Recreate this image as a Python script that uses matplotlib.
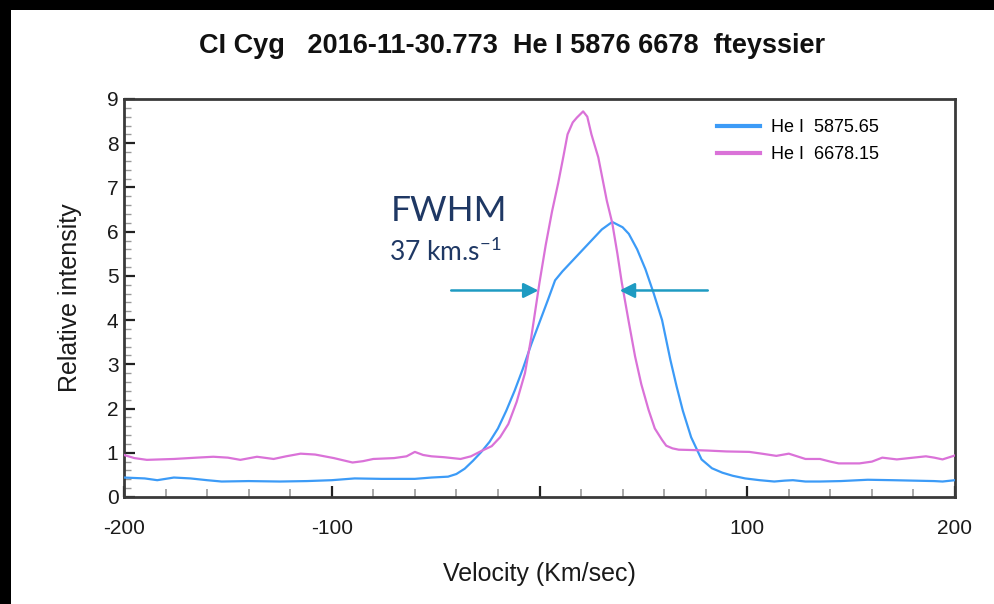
import matplotlib
matplotlib.use("Agg")
import matplotlib.pyplot as plt
from matplotlib.patches import Rectangle
from matplotlib.ticker import MultipleLocator, FixedLocator

# ---------------- data ----------------
vel_5876 = [-200, -190, -184, -176, -168, -160, -153, -140, -125, -112, -100, -89, -76, -60, -52,
            -44, -40, -36, -32, -28, -24, -20, -16, -12, -8, -4, 0, 4, 7.5, 11, 15, 20, 25, 30,
            35, 40, 43, 47, 51, 55, 59, 63, 66, 69, 73, 78, 83, 88, 93, 99, 106, 113, 118, 122,
            128, 135, 145, 158, 170, 180, 190, 194, 200]
int_5876 = [0.44, 0.42, 0.38, 0.44, 0.42, 0.38, 0.35, 0.36, 0.35, 0.36, 0.38, 0.42, 0.41, 0.41, 0.44,
            0.46, 0.52, 0.64, 0.82, 1.02, 1.25, 1.55, 1.95, 2.40, 2.90, 3.45, 3.95, 4.45, 4.90, 5.10,
            5.30, 5.55, 5.80, 6.05, 6.22, 6.10, 5.95, 5.60, 5.15, 4.60, 4.00, 3.10, 2.50, 1.95, 1.35,
            0.85, 0.65, 0.55, 0.48, 0.42, 0.38, 0.35, 0.37, 0.38, 0.35, 0.35, 0.36, 0.39, 0.38, 0.37,
            0.36, 0.35, 0.38]

vel_6678 = [-200, -195, -189, -176, -165, -157, -150, -144, -136, -128, -122, -115, -108, -99, -90,
            -85, -80, -70, -64, -60, -56, -52, -46, -38, -33, -28, -23, -19, -15, -11, -7, -4, 0,
            3, 6, 9, 11.5, 13.5, 16, 18, 21, 23, 25, 28.3, 32.4, 35, 37.5, 39.6, 43, 46, 49, 52.5,
            55.5, 59, 61, 64, 67, 75, 81, 90, 101, 107, 114, 120, 128, 135, 140, 144, 154, 160,
            165, 172, 180, 186, 190, 194, 200]
int_6678 = [0.95, 0.88, 0.84, 0.86, 0.89, 0.91, 0.89, 0.84, 0.91, 0.86, 0.92, 0.98, 0.96, 0.88, 0.78,
            0.81, 0.86, 0.88, 0.92, 1.02, 0.95, 0.92, 0.90, 0.86, 0.92, 1.04, 1.15, 1.35, 1.65, 2.15,
            2.80, 3.60, 4.85, 5.70, 6.45, 7.10, 7.70, 8.20, 8.47, 8.58, 8.72, 8.60, 8.20, 7.68, 6.70,
            6.20, 5.50, 4.85, 3.95, 3.18, 2.55, 1.97, 1.55, 1.29, 1.16, 1.10, 1.07, 1.06, 1.05, 1.03,
            1.02, 0.98, 0.93, 0.98, 0.86, 0.86, 0.80, 0.76, 0.76, 0.80, 0.89, 0.85, 0.89, 0.92, 0.89,
            0.85, 0.94]

series_labels = ["He I  5875.65", "He I  6678.15"]
series_colors = ["#3C9BF7", "#DA72D8"]

x_tick_values = [-200, -100, 0, 100, 200]
x_tick_labels = ["-200", "-100", "", "100", "200"]
y_tick_values = list(range(0, 10))

title_text = "CI Cyg   2016-11-30.773  He I 5876 6678  fteyssier"
xlabel_text = "Velocity (Km/sec)"
ylabel_text = "Relative intensity"

fwhm_label = "FWHM"
fwhm_value = "37 km.s$^{\\mathregular{-1}}$"
fwhm_left_arrow = (-42.5, -0.5)   # from, to (velocity)
fwhm_right_arrow = (81.0, 38.6)
fwhm_level = 4.67

# ---------------- figure ----------------
plt.rcParams["font.family"] = ["Liberation Sans", "DejaVu Sans"]
plt.rcParams["mathtext.fontset"] = "custom"
plt.rcParams["mathtext.rm"] = "Lato"

fig = plt.figure(figsize=(9.94, 6.04), dpi=100)
fig.patch.set_facecolor("white")
fig.patches.append(Rectangle((0, 0), 11 / 994, 1, transform=fig.transFigure,
                             facecolor="black", edgecolor="none", zorder=10))
fig.patches.append(Rectangle((0, 1 - 10 / 604), 1, 10 / 604, transform=fig.transFigure,
                             facecolor="black", edgecolor="none", zorder=10))

ax = fig.add_axes([124 / 994, 1 - 497 / 604, (955 - 124) / 994, (497 - 99) / 604])

ax.plot(vel_5876, int_5876, color=series_colors[0], lw=1.6, label=series_labels[0], zorder=3)
ax.plot(vel_6678, int_6678, color=series_colors[1], lw=1.6, label=series_labels[1], zorder=3)

ax.set_xlim(-200, 200)
ax.set_ylim(0, 9)

for s in ax.spines.values():
    s.set_color("#3a3a3a")
    s.set_linewidth(2)

ax.xaxis.set_major_locator(FixedLocator(x_tick_values))
ax.set_xticklabels(x_tick_labels)
ax.xaxis.set_minor_locator(MultipleLocator(20))
ax.yaxis.set_major_locator(FixedLocator(y_tick_values))
ax.yaxis.set_minor_locator(MultipleLocator(0.2))

ax.tick_params(axis="x", which="major", direction="in", length=8, width=1.6, color="#222222",
               labelsize=15, pad=16, labelcolor="#1a1a1a")
ax.tick_params(axis="x", which="minor", direction="in", length=6, width=1.2, color="#999999")
ax.tick_params(axis="y", which="major", direction="in", length=8, width=1.6, color="#222222",
               labelsize=15, pad=4, labelcolor="#1a1a1a")
ax.tick_params(axis="y", which="minor", direction="in", length=5, width=1.0, color="#999999")

ax.set_xlabel(xlabel_text, fontsize=18, labelpad=17, color="#1a1a1a")
ax.set_ylabel(ylabel_text, fontsize=18, labelpad=18, color="#1a1a1a")

fig.text(512 / 994, 1 - 46 / 604, title_text, ha="center", va="center", fontsize=19.5,
         fontweight="bold", family=["Liberation Sans", "DejaVu Sans"], color="#111111")

leg = ax.legend(loc="upper left", bbox_to_anchor=((717 - 124) / 831, (497 - 119) / 398),
                frameon=False, fontsize=13, borderpad=0, borderaxespad=0,
                handlelength=2.4, handletextpad=0.6, labelspacing=0.55)
for line in leg.get_lines():
    line.set_linewidth(3)

# FWHM annotation
navy = "#1F3864"
teal = "#1E9BC2"
ax.text(-71.5, 6.47, fwhm_label, fontsize=25.5, color=navy, family=["Lato", "DejaVu Sans"],
        ha="left", va="center")
ax.text(-72.5, 5.55, fwhm_value, fontsize=19, color=navy, family=["Lato", "DejaVu Sans"],
        ha="left", va="center")
arrow_style = dict(arrowstyle="-|>,head_length=0.9,head_width=0.45", color=teal, lw=1.8,
                   shrinkA=0, shrinkB=0)
ax.annotate("", xy=(fwhm_left_arrow[1], fwhm_level), xytext=(fwhm_left_arrow[0], fwhm_level),
            arrowprops=arrow_style, zorder=5)
ax.annotate("", xy=(fwhm_right_arrow[1], fwhm_level), xytext=(fwhm_right_arrow[0], fwhm_level),
            arrowprops=arrow_style, zorder=5)

fig.savefig("out.png", dpi=100, facecolor=fig.get_facecolor())
